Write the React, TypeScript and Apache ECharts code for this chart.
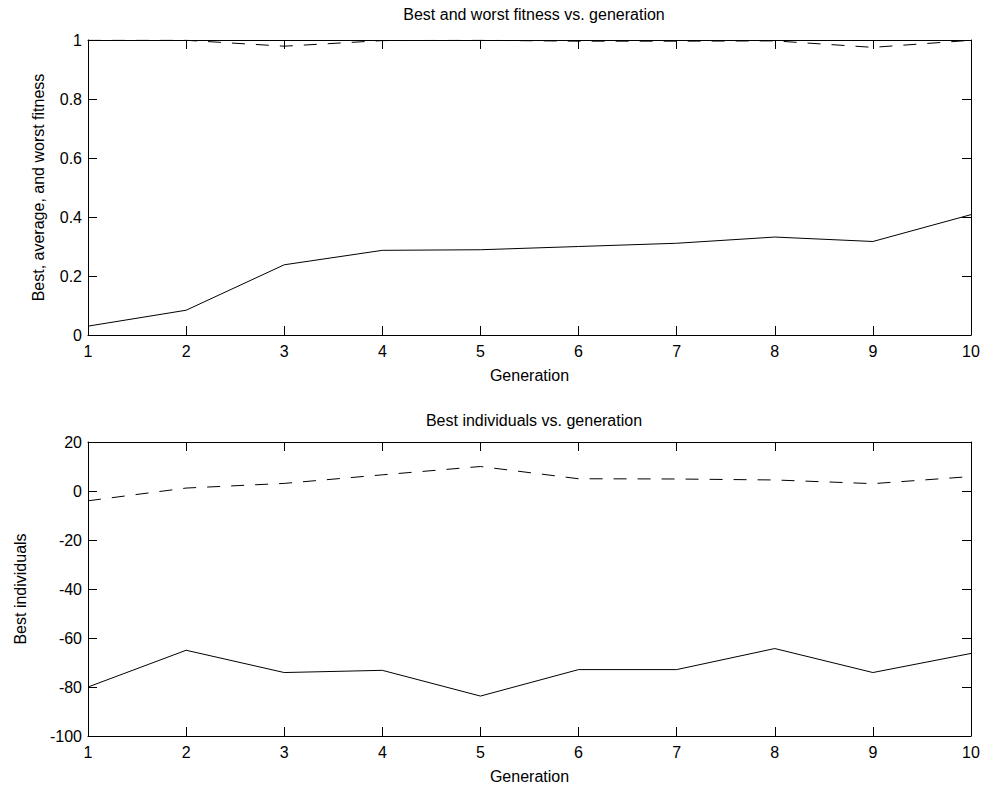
import React, { useEffect, useRef } from "react";
import * as echarts from "echarts";

const generations = [1, 2, 3, 4, 5, 6, 7, 8, 9, 10];
const bestFitness = [0.03, 0.084, 0.238, 0.287, 0.289, 0.3, 0.311, 0.332, 0.317, 0.408];
const worstFitness = [0.999, 0.999, 0.979, 0.998, 0.999, 0.996, 0.996, 0.997, 0.975, 0.999];
const bestIndivA = [-80, -65, -74.1, -73.2, -83.7, -72.9, -72.9, -64.3, -74.1, -66.3];
const bestIndivB = [-4, 1.2, 3.1, 6.6, 10, 5.0, 4.9, 4.5, 3.0, 5.9];

const FONT = "Liberation Sans, Arial, Helvetica, sans-serif";
const FS = 16;

const pairs = (ys: number[]) => generations.map((g, i) => [g, ys[i]]);

function App() {
  const ref = useRef<HTMLDivElement>(null);
  useEffect(() => {
    if (!ref.current) return;
    const chart = echarts.init(ref.current, null, { renderer: "svg" });
    const axisLine = { show: true, onZero: false, lineStyle: { color: "#000", width: 1 } };
    const axisTick = { show: true, inside: true, length: 9, lineStyle: { color: "#000", width: 1 } };
    const label = { color: "#000", fontSize: FS, fontFamily: FONT };
    const nameStyle = { color: "#000", fontSize: FS, fontFamily: FONT };
    const xMain = (gi: number) => ({
      type: "value",
      gridIndex: gi,
      min: 1,
      max: 10,
      interval: 1,
      position: "bottom",
      axisLine,
      axisTick,
      splitLine: { show: false },
      axisLabel: { ...label, margin: 8 },
      name: "Generation",
      nameLocation: "middle",
      nameGap: 32,
      nameTextStyle: nameStyle,
    });
    const xTop = (gi: number) => ({
      type: "value",
      gridIndex: gi,
      min: 1,
      max: 10,
      interval: 1,
      position: "top",
      axisLine,
      axisTick,
      splitLine: { show: false },
      axisLabel: { show: false },
    });
    const yRight = (gi: number, min: number, max: number, interval: number) => ({
      type: "value",
      gridIndex: gi,
      min,
      max,
      interval,
      position: "right",
      axisLine,
      axisTick,
      splitLine: { show: false },
      axisLabel: { show: false },
    });
    const solid = { color: "#000", width: 1, type: "solid" };
    const dashed = { color: "#000", width: 1, type: [13, 11] };
    const titleStyle = { color: "#000", fontSize: FS, fontWeight: "normal", fontFamily: FONT };
    const option = {
      animation: false,
      backgroundColor: "#fff",
      title: [
        { text: "Best and worst fitness vs. generation", left: 529, top: 1, textAlign: "center", textStyle: titleStyle },
        { text: "Best individuals vs. generation", left: 529, top: 407, textAlign: "center", textStyle: titleStyle },
      ],
      grid: [
        { left: 88, top: 40, width: 883, height: 295 },
        { left: 88, top: 442, width: 883, height: 294 },
      ],
      xAxis: [xMain(0), xTop(0), xMain(1), xTop(1)],
      yAxis: [
        {
          type: "value",
          gridIndex: 0,
          min: 0,
          max: 1,
          interval: 0.2,
          position: "left",
          axisLine,
          axisTick,
          splitLine: { show: false },
          axisLabel: { ...label, margin: 6 },
          name: "Best, average, and worst fitness",
          nameLocation: "middle",
          nameGap: 42,
          nameTextStyle: nameStyle,
        },
        yRight(0, 0, 1, 0.2),
        {
          type: "value",
          gridIndex: 1,
          min: -100,
          max: 20,
          interval: 20,
          position: "left",
          axisLine,
          axisTick,
          splitLine: { show: false },
          axisLabel: { ...label, margin: 6 },
          name: "Best individuals",
          nameLocation: "middle",
          nameGap: 60,
          nameTextStyle: nameStyle,
        },
        yRight(1, -100, 20, 20),
      ],
      series: [
        { type: "line", xAxisIndex: 0, yAxisIndex: 0, data: pairs(bestFitness), showSymbol: false, lineStyle: solid, silent: true },
        { type: "line", xAxisIndex: 0, yAxisIndex: 0, data: pairs(worstFitness), showSymbol: false, lineStyle: dashed, silent: true },
        { type: "line", xAxisIndex: 2, yAxisIndex: 2, data: pairs(bestIndivA), showSymbol: false, lineStyle: solid, silent: true },
        { type: "line", xAxisIndex: 2, yAxisIndex: 2, data: pairs(bestIndivB), showSymbol: false, lineStyle: dashed, silent: true },
      ],
    };
    chart.setOption(option as any);
    return () => chart.dispose();
  }, []);
  return <div ref={ref} style={{ width: 987, height: 791, position: "absolute", left: 0, top: 0 }} />;
}

export default App;
